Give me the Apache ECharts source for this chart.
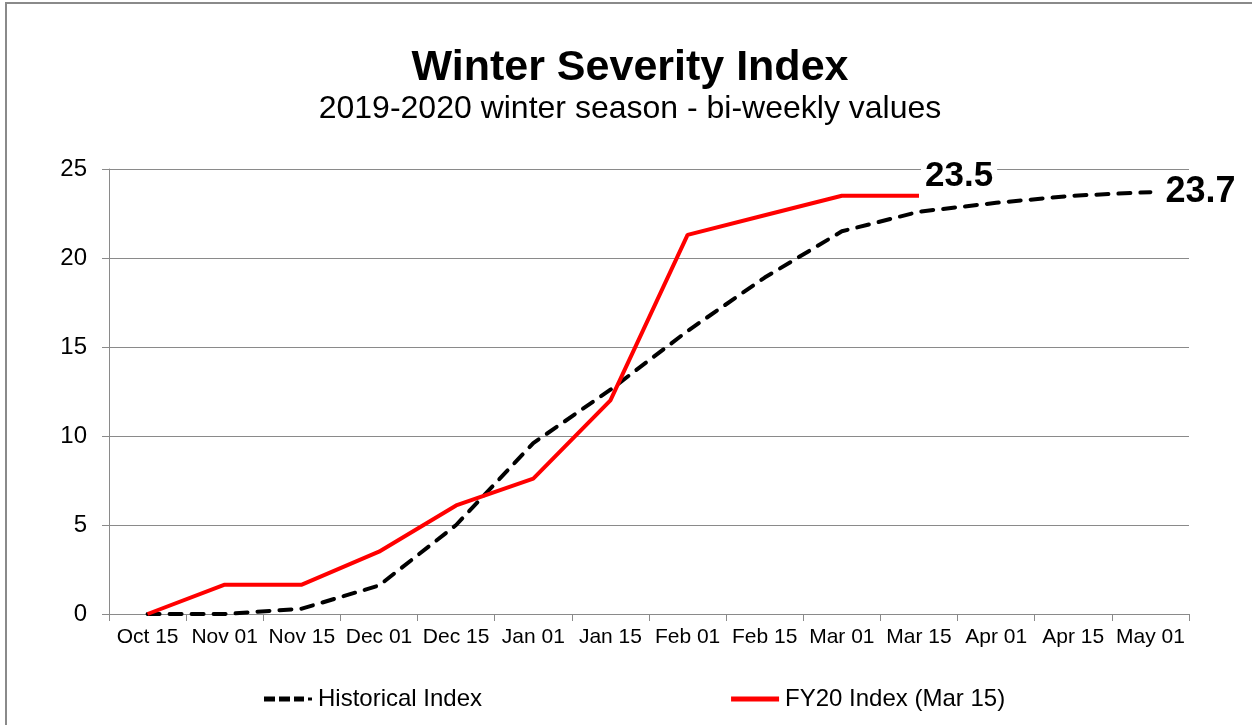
<!DOCTYPE html>
<html>
<head>
<meta charset="utf-8">
<title>Winter Severity Index</title>
<script src="https://cdn.jsdelivr.net/npm/echarts@6/dist/echarts.min.js"></script>
<style>
  html, body { margin: 0; padding: 0; background: #ffffff; }
  #chart { width: 1252px; height: 725px; }
</style>
</head>
<body>
<div id="chart"></div>
<script>
// Bi-weekly dates of the 2019-2020 winter season
const categories = ['Oct 15', 'Nov 01', 'Nov 15', 'Dec 01', 'Dec 15', 'Jan 01', 'Jan 15',
                    'Feb 01', 'Feb 15', 'Mar 01', 'Mar 15', 'Apr 01', 'Apr 15', 'May 01'];

// Long-term average cumulative index
const historical = [0, 0, 0.3, 1.6, 5.0, 9.6, 12.6, 15.9, 18.9, 21.5, 22.6, 23.1, 23.5, 23.7];

// FY20 cumulative index, reported through Mar 15
const fy20 = [0, 1.65, 1.65, 3.5, 6.1, 7.6, 12.0, 21.3, 22.4, 23.5, 23.5];

const yTicks = [0, 5, 10, 15, 20, 25];

const FONT = '"Liberation Sans", Arial, sans-serif';

// Legend swatches: dashed stroke ending in a dot, and a solid stroke
const DASHED_ICON = 'path://M0,0h11v5H0z M15,0h11v5H15z M30,0h10v5H30z M44,1h4v3h-4z';
const SOLID_ICON = 'path://M0,0h48v5H0z';

const chart = echarts.init(document.getElementById('chart'), null, { renderer: 'canvas' });

chart.setOption({
  animation: false,
  backgroundColor: '#ffffff',
  graphic: [{
    type: 'rect',
    shape: { x: 6, y: 3, width: 1300, height: 800 },
    style: { fill: 'none', stroke: '#8a8a8a', lineWidth: 2 },
    silent: true,
    z: -1
  }],
  title: [{
    text: 'Winter Severity Index',
    left: 625,
    top: 42,
    textAlign: 'center',
    textStyle: { fontFamily: FONT, fontSize: 43, fontWeight: 'bold', color: '#000' }
  }, {
    text: '2019-2020 winter season - bi-weekly values',
    left: 625,
    top: 88,
    textAlign: 'center',
    textStyle: { fontFamily: FONT, fontSize: 32, fontWeight: 'normal', color: '#000' }
  }],
  legend: {
    left: 259,
    top: 682,
    itemWidth: 48,
    itemHeight: 5,
    itemGap: 249,
    textStyle: { fontFamily: FONT, fontSize: 24, color: '#000', padding: [0, 0, 0, 1] },
    data: [
      { name: 'Historical Index', icon: DASHED_ICON, itemStyle: { color: '#000' } },
      { name: 'FY20 Index (Mar 15)', icon: SOLID_ICON, itemStyle: { color: '#ff0000' } }
    ]
  },
  grid: {
    left: 109,
    right: 63,
    top: 169,
    bottom: 111,
    containLabel: false
  },
  xAxis: {
    type: 'category',
    data: categories,
    boundaryGap: true,
    axisLine: { lineStyle: { color: '#8a8a8a', width: 1 } },
    axisTick: { show: true, length: 7, alignWithLabel: false, lineStyle: { color: '#8a8a8a' } },
    axisLabel: { fontFamily: FONT, fontSize: 21, color: '#000', margin: 13, interval: 0 },
    splitLine: { show: false }
  },
  yAxis: {
    type: 'value',
    min: yTicks[0],
    max: yTicks[yTicks.length - 1],
    interval: 5,
    axisLine: { show: true, lineStyle: { color: '#8a8a8a', width: 1 } },
    axisTick: { show: true, length: 7, lineStyle: { color: '#8a8a8a' } },
    axisLabel: { fontFamily: FONT, fontSize: 24, color: '#000', margin: 22 },
    splitLine: { show: true, lineStyle: { color: '#8a8a8a', width: 1 } }
  },
  series: [{
    name: 'Historical Index',
    type: 'line',
    data: historical,
    symbol: 'none',
    color: '#000',
    lineStyle: { color: '#000', width: 4, type: [12, 10], cap: 'round' },
    endLabel: {
      show: true,
      formatter: (p) => p.value.toFixed(1),
      distance: 10,
      offset: [0, 0],
      fontFamily: FONT,
      fontWeight: 'bold',
      fontSize: 36,
      color: '#000',
      backgroundColor: '#fff',
      padding: [2, 2, 0, 5]
    },
    z: 2
  }, {
    name: 'FY20 Index (Mar 15)',
    type: 'line',
    data: fy20,
    symbol: 'none',
    color: '#ff0000',
    lineStyle: { color: '#ff0000', width: 4 },
    endLabel: {
      show: true,
      formatter: (p) => p.value.toFixed(1),
      distance: 2,
      offset: [0, -19],
      fontFamily: FONT,
      fontWeight: 'bold',
      fontSize: 35,
      color: '#000',
      backgroundColor: '#fff',
      padding: [0, 4, 0, 4]
    },
    z: 3
  }]
});
</script>
</body>
</html>
